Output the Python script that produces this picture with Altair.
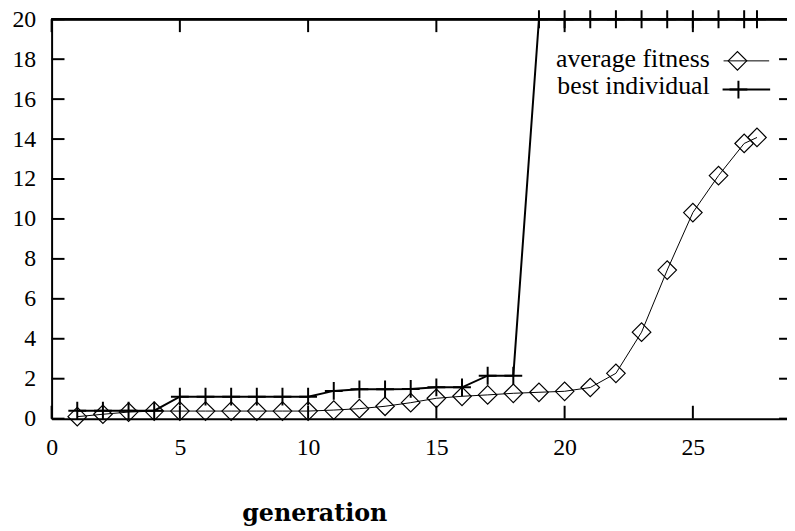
import altair as alt
import pandas as pd

# ---- data ----
generation = [1, 2, 3, 4, 5, 6, 7, 8, 9, 10, 11, 12, 13, 14, 15, 16, 17, 18, 19, 20,
              21, 22, 23, 24, 25, 26, 27, 27.5]
avg_fitness = [0.10, 0.22, 0.33, 0.38, 0.38, 0.38, 0.38, 0.38, 0.38, 0.38, 0.43, 0.50,
               0.62, 0.80, 1.02, 1.12, 1.19, 1.27, 1.32, 1.37, 1.56, 2.27, 4.33, 7.44,
               10.32, 12.17, 13.78, 14.08]
best_individual = [0.40, 0.40, 0.40, 0.40, 1.10, 1.10, 1.10, 1.10, 1.10, 1.10, 1.39, 1.47,
                   1.47, 1.49, 1.57, 1.57, 2.15, 2.15, 20, 20, 20, 20, 20, 20, 20, 20, 20, 20]
x_ticks = [0, 5, 10, 15, 20, 25]
y_ticks = [0, 2, 4, 6, 8, 10, 12, 14, 16, 18, 20]
legend_labels = ["average fitness", "best individual"]

W, H = 742, 403
XMAX = 28.67

df = pd.DataFrame({"generation": generation, "avg": avg_fitness, "best": best_individual})

xs = alt.Scale(domain=[0, XMAX], nice=False, zero=False)
ys = alt.Scale(domain=[0, 20], nice=False)

x_axis = alt.Axis(values=x_ticks, ticks=False, grid=False, domainWidth=2, domainColor="black",
                  labelFont="Liberation Serif", labelFontSize=24, labelColor="black",
                  labelPadding=29, labelBaseline="middle", labelFlush=False, labelOverlap=False,
                  title="generation", titleFont="DejaVu Serif", titleFontWeight="bold",
                  titleFontSize=24, titleColor="black", titleX=265, titleY=103,
                  titleBaseline="alphabetic", titleAlign="center")
y_axis = alt.Axis(values=y_ticks, ticks=False, grid=False, domainWidth=2, domainColor="black",
                  labelFont="Liberation Serif", labelFontSize=24, labelColor="black",
                  labelPadding=16, labelFlush=False, labelOverlap=False, title=None)

base = alt.Chart(df)
X = alt.X("generation:Q", scale=xs, axis=x_axis)

avg_line = base.mark_line(color="black", strokeWidth=1).encode(
    x=X, y=alt.Y("avg:Q", scale=ys, axis=y_axis))
avg_pts = base.mark_point(shape="diamond", size=350, filled=False, color="black",
                          strokeWidth=1.2, opacity=1).encode(x="generation:Q", y="avg:Q")
best_line = base.mark_line(color="black", strokeWidth=2).encode(x="generation:Q", y="best:Q")
PLUS = "M-1,0H1M0,-1V1"
best_pts = base.mark_point(shape=PLUS, size=324, filled=False, color="black",
                           strokeWidth=2, opacity=1).encode(x="generation:Q", y="best:Q")

# inward ticks (gnuplot style) on all sides
xt = alt.Chart(pd.DataFrame({"t": x_ticks}))
yt = alt.Chart(pd.DataFrame({"t": y_ticks}))
tick_style = dict(color="black", strokeWidth=2)
bottom_ticks = xt.mark_rule(**tick_style).encode(x="t:Q", y=alt.value(H), y2=alt.value(H - 13))
top_ticks = xt.mark_rule(**tick_style).encode(x="t:Q", y=alt.value(0), y2=alt.value(13))
left_ticks = yt.mark_rule(**tick_style).encode(y="t:Q", x=alt.value(0), x2=alt.value(13))
right_ticks = yt.mark_rule(**tick_style).encode(y="t:Q", x=alt.value(W - 8), x2=alt.value(W))
top_border = xt.mark_rule(**tick_style).encode(x=alt.value(0), x2=alt.value(W), y=alt.value(0))

# key
k1 = alt.Chart(pd.DataFrame({"label": [legend_labels[0]]}))
k2 = alt.Chart(pd.DataFrame({"label": [legend_labels[1]]}))
key_font = dict(font="Liberation Serif", fontSize=26, color="black", align="right",
                baseline="alphabetic")
k1_text = k1.mark_text(**key_font).encode(text="label:N", x=alt.value(664), y=alt.value(48))
k2_text = k2.mark_text(**key_font).encode(text="label:N", x=alt.value(664), y=alt.value(75))
k1_line = k1.mark_rule(color="black", strokeWidth=1).encode(
    x=alt.value(678), x2=alt.value(724), y=alt.value(42))
k2_line = k2.mark_rule(color="black", strokeWidth=2).encode(
    x=alt.value(677), x2=alt.value(725), y=alt.value(71))
k1_pt = k1.mark_point(shape="diamond", size=350, filled=False, color="black",
                      strokeWidth=1.2, opacity=1).encode(x=alt.value(692), y=alt.value(42))
k2_pt = k2.mark_point(shape=PLUS, size=324, filled=False, color="black",
                      strokeWidth=2, opacity=1).encode(x=alt.value(693), y=alt.value(71))

chart = alt.layer(
    avg_line, best_line, avg_pts, best_pts,
    bottom_ticks, top_ticks, left_ticks, right_ticks, top_border,
    k1_text, k2_text, k1_line, k2_line, k1_pt, k2_pt,
).properties(
    width=W, height=H, autosize="none",
    padding={"left": 44, "top": 9, "right": 0, "bottom": 110},
    background="white",
).configure_view(stroke=None)

chart.save("out.html", embed_options={"renderer": "svg", "actions": False})
